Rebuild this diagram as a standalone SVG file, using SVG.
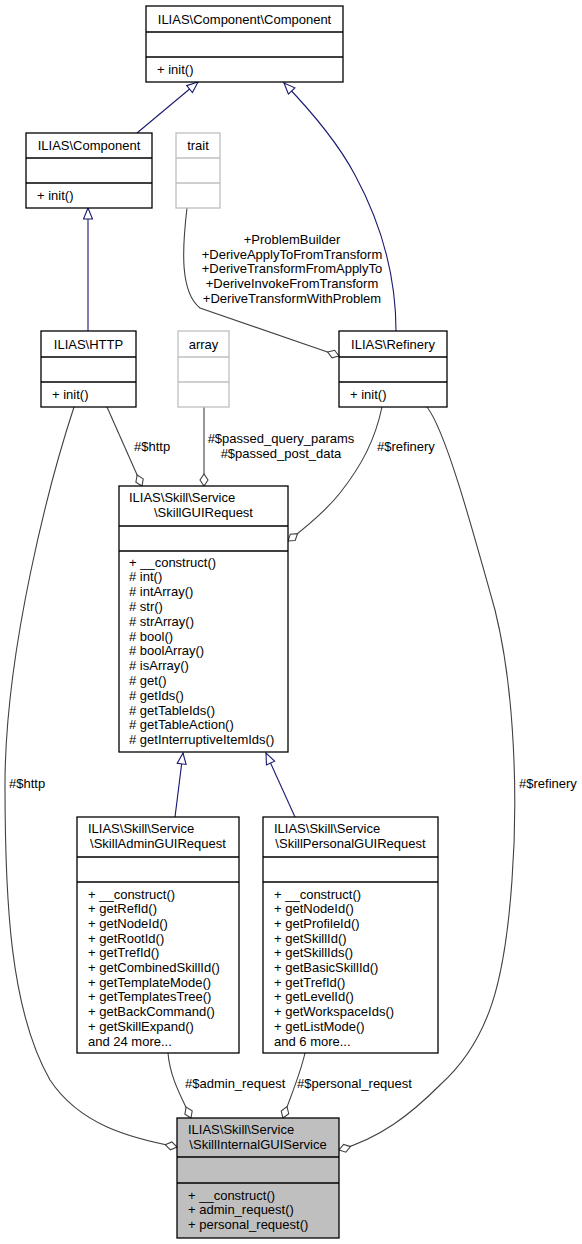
<svg xmlns="http://www.w3.org/2000/svg" width="582" height="1244" viewBox="0 0 582 1244">
<style>
text{font-family:"Liberation Sans",Arial,Helvetica,sans-serif;font-size:13px;fill:#000}
.m{text-anchor:middle}
.box{fill:#fff;stroke:#000;stroke-width:1.3}
.gbox{fill:#fff;stroke:#bfbfbf;stroke-width:1.3}
.sel{fill:#bfbfbf;stroke:#000;stroke-width:1.3}
.sep{stroke:#000;stroke-width:1.3}
.gsep{stroke:#bfbfbf;stroke-width:1.3}
.gen{fill:none;stroke:#191970;stroke-width:1.1}
.agg{fill:none;stroke:#404040;stroke-width:1.1}
</style>
<defs>
<marker id="tri" markerUnits="userSpaceOnUse" viewBox="-13 -6 14 12" markerWidth="14" markerHeight="12" refX="0" refY="0" orient="auto">
<path d="M0,0 L-11,-4.5 L-11,4.5 Z" fill="#fff" stroke="#191970" stroke-width="1.1"/>
</marker>
<marker id="dia" markerUnits="userSpaceOnUse" viewBox="-14 -6 15 12" markerWidth="15" markerHeight="12" refX="0" refY="0" orient="auto">
<path d="M0,0 L-6,-4 L-12,0 L-6,4 Z" fill="#fff" stroke="#404040" stroke-width="1.1"/>
</marker>
</defs>

<g id="connectors">
<path class="gen" d="M137,133 L198,82" marker-end="url(#tri)"/>
<path class="gen" d="M396,331 C396,275 382,225 355,175 C338,143 310,110 284,83" marker-end="url(#tri)"/>
<path class="gen" d="M88,331 L88,208" marker-end="url(#tri)"/>
<path class="agg" d="M187,208 C182,250 180,292 200,308 L339,356" marker-end="url(#dia)"/>
<text class="m" x="292" y="244">+ProblemBuilder</text>
<text class="m" x="292" y="258.7">+DeriveApplyToFromTransform</text>
<text class="m" x="292" y="273.4">+DeriveTransformFromApplyTo</text>
<text class="m" x="292" y="288.1">+DeriveInvokeFromTransform</text>
<text class="m" x="292" y="302.8">+DeriveTransformWithProblem</text>
<path class="agg" d="M107,407 L142,486" marker-end="url(#dia)"/>
<text x="134" y="450.5">#$http</text>
<path class="agg" d="M204,407 L204,486" marker-end="url(#dia)"/>
<text class="m" x="281" y="442.5">#$passed_query_params</text>
<text class="m" x="281" y="457.5">#$passed_post_data</text>
<path class="agg" d="M382,407 C375,440 362,465 340,493 C325,512 305,528 288,541" marker-end="url(#dia)"/>
<text x="377" y="450.5">#$refinery</text>
<path class="gen" d="M175,817 L183,753" marker-end="url(#tri)"/>
<path class="gen" d="M295,817 L266,753" marker-end="url(#tri)"/>
<path class="agg" d="M74,407 C50,480 5,650 5,785 C5,900 10,1010 50,1080 C80,1125 130,1138 177,1147" marker-end="url(#dia)"/>
<text x="9" y="787.5">#$http</text>
<path class="agg" d="M427,407 C445,430 470,520 495,610 C515,690 518,800 512,880 C505,980 490,1040 440,1085 C410,1115 380,1138 339,1150" marker-end="url(#dia)"/>
<text x="519" y="787.5">#$refinery</text>
<path class="agg" d="M168,1053 C170,1078 182,1098 191,1118" marker-end="url(#dia)"/>
<text x="185" y="1087.5">#$admin_request</text>
<path class="agg" d="M305,1053 C300,1075 290,1098 283,1118" marker-end="url(#dia)"/>
<text x="297" y="1087.5">#$personal_request</text>
</g>

<g id="node-component-component">
<rect class="box" x="146" y="6" width="197" height="76"/>
<line class="sep" x1="146" y1="32" x2="343" y2="32"/>
<line class="sep" x1="146" y1="57" x2="343" y2="57"/>
<text class="m" x="244.5" y="23.5">ILIAS\Component\Component</text>
<text x="157" y="74">+ init()</text>
</g>

<g id="node-component">
<rect class="box" x="26" y="133" width="126" height="75"/>
<line class="sep" x1="26" y1="158" x2="152" y2="158"/>
<line class="sep" x1="26" y1="183" x2="152" y2="183"/>
<text class="m" x="89" y="150">ILIAS\Component</text>
<text x="37" y="200">+ init()</text>
</g>

<g id="node-trait">
<rect class="gbox" x="176" y="133" width="44" height="75"/>
<line class="gsep" x1="176" y1="158" x2="220" y2="158"/>
<line class="gsep" x1="176" y1="183" x2="220" y2="183"/>
<text class="m" x="198" y="150">trait</text>
</g>

<g id="node-http">
<rect class="box" x="41" y="331" width="95" height="76"/>
<line class="sep" x1="41" y1="357" x2="136" y2="357"/>
<line class="sep" x1="41" y1="382" x2="136" y2="382"/>
<text class="m" x="88.5" y="348.5">ILIAS\HTTP</text>
<text x="52" y="399">+ init()</text>
</g>

<g id="node-array">
<rect class="gbox" x="178" y="331" width="51" height="76"/>
<line class="gsep" x1="178" y1="357" x2="229" y2="357"/>
<line class="gsep" x1="178" y1="382" x2="229" y2="382"/>
<text class="m" x="203.5" y="348.5">array</text>
</g>

<g id="node-refinery">
<rect class="box" x="339" y="331" width="108" height="76"/>
<line class="sep" x1="339" y1="357" x2="447" y2="357"/>
<line class="sep" x1="339" y1="382" x2="447" y2="382"/>
<text class="m" x="393" y="348.5">ILIAS\Refinery</text>
<text x="350" y="399">+ init()</text>
</g>

<g id="node-skillguirequest">
<rect class="box" x="119" y="486" width="169" height="266"/>
<line class="sep" x1="119" y1="526" x2="288" y2="526"/>
<line class="sep" x1="119" y1="551" x2="288" y2="551"/>
<text x="129" y="501.5">ILIAS\Skill\Service</text>
<text class="m" x="203.5" y="516.5">\SkillGUIRequest</text>
<text x="129" y="566.5">+ __construct()</text>
<text x="129" y="581.3"># int()</text>
<text x="129" y="596.1"># intArray()</text>
<text x="129" y="610.9"># str()</text>
<text x="129" y="625.7"># strArray()</text>
<text x="129" y="640.5"># bool()</text>
<text x="129" y="655.3"># boolArray()</text>
<text x="129" y="670.1"># isArray()</text>
<text x="129" y="684.9"># get()</text>
<text x="129" y="699.7"># getIds()</text>
<text x="129" y="714.5"># getTableIds()</text>
<text x="129" y="729.3"># getTableAction()</text>
<text x="129" y="744.1"># getInterruptiveItemIds()</text>
</g>

<g id="node-skilladminguirequest">
<rect class="box" x="77" y="817" width="162" height="236"/>
<line class="sep" x1="77" y1="857" x2="239" y2="857"/>
<line class="sep" x1="77" y1="882" x2="239" y2="882"/>
<text x="88" y="832.5">ILIAS\Skill\Service</text>
<text class="m" x="158" y="847.5">\SkillAdminGUIRequest</text>
<text x="88" y="898.5">+ __construct()</text>
<text x="88" y="913.2">+ getRefId()</text>
<text x="88" y="927.9">+ getNodeId()</text>
<text x="88" y="942.6">+ getRootId()</text>
<text x="88" y="957.3">+ getTrefId()</text>
<text x="88" y="972">+ getCombinedSkillId()</text>
<text x="88" y="986.7">+ getTemplateMode()</text>
<text x="88" y="1001.4">+ getTemplatesTree()</text>
<text x="88" y="1016.1">+ getBackCommand()</text>
<text x="88" y="1030.8">+ getSkillExpand()</text>
<text x="88" y="1045.5">and 24 more...</text>
</g>

<g id="node-skillpersonalguirequest">
<rect class="box" x="263" y="817" width="175" height="236"/>
<line class="sep" x1="263" y1="857" x2="438" y2="857"/>
<line class="sep" x1="263" y1="882" x2="438" y2="882"/>
<text x="274" y="832.5">ILIAS\Skill\Service</text>
<text class="m" x="350.5" y="847.5">\SkillPersonalGUIRequest</text>
<text x="274" y="898.5">+ __construct()</text>
<text x="274" y="913.2">+ getNodeId()</text>
<text x="274" y="927.9">+ getProfileId()</text>
<text x="274" y="942.6">+ getSkillId()</text>
<text x="274" y="957.3">+ getSkillIds()</text>
<text x="274" y="972">+ getBasicSkillId()</text>
<text x="274" y="986.7">+ getTrefId()</text>
<text x="274" y="1001.4">+ getLevelId()</text>
<text x="274" y="1016.1">+ getWorkspaceIds()</text>
<text x="274" y="1030.8">+ getListMode()</text>
<text x="274" y="1045.5">and 6 more...</text>
</g>

<g id="node-skillinternalguiservice">
<rect class="sel" x="177" y="1118" width="162" height="120"/>
<line class="sep" x1="177" y1="1157" x2="339" y2="1157"/>
<line class="sep" x1="177" y1="1183" x2="339" y2="1183"/>
<text x="188" y="1133.5">ILIAS\Skill\Service</text>
<text class="m" x="258" y="1148.5">\SkillInternalGUIService</text>
<text x="188" y="1199.5">+ __construct()</text>
<text x="188" y="1214">+ admin_request()</text>
<text x="188" y="1228.5">+ personal_request()</text>
</g>
</svg>
